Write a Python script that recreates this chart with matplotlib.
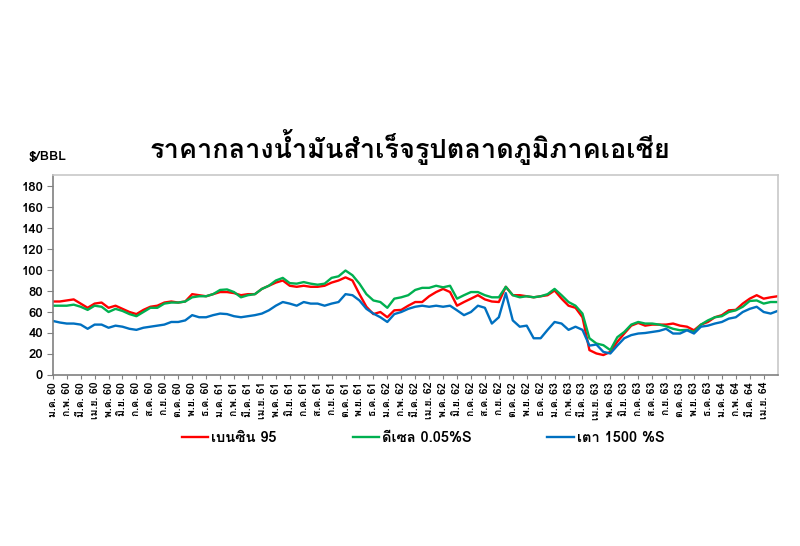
import matplotlib
matplotlib.use('Agg')
import matplotlib.pyplot as plt
from matplotlib import font_manager
from fontTools.ttLib import TTFont


def thai_font():
    # first installed family that has Thai glyphs
    for f in font_manager.fontManager.ttflist:
        try:
            font = TTFont(f.fname, fontNumber=0, lazy=True)
            if 0x0E01 in font.getBestCmap():
                return f.name
        except Exception:
            pass
    return 'DejaVu Sans'


plt.rcParams['font.family'] = [thai_font(), 'DejaVu Sans']

# x = months since ม.ค. 60 (Jan 2017), read every half month
months = [i / 2 for i in range(105)]

benzin95 = [70, 70, 71, 72, 68, 64, 68, 69, 64, 66, 63, 60, 58, 62, 65, 66, 69, 70, 69, 70,
            77, 76, 75, 77, 79, 79, 78, 76, 77, 77, 82, 85, 88, 90, 85, 84, 85, 84, 84, 85,
            88, 90, 93, 90, 77, 65, 58, 60, 55, 61.6, 62, 66, 69.5, 69.5, 75, 79, 82, 79, 66, 69.5,
            72.7, 76, 72, 70, 69.5, 84, 76, 76, 75, 74, 75, 76, 80.5, 72.7, 66, 64, 55, 23.7, 20.5, 19,
            22, 31.6, 39.5, 47, 49.6, 47, 48, 48, 48, 49, 47, 46, 42.6, 48, 50.5, 55, 57, 61.6, 62, 68,
            72.7, 76, 72.7, 74, 75]

diesel = [66, 66, 66, 67, 65, 62, 66, 65, 60, 63, 61, 58, 56, 60, 64, 64, 68, 69, 69, 70,
          74, 75, 75, 77, 81, 81.5, 79, 74, 76, 77, 82, 85, 90, 92.5, 87.5, 87, 88.5, 87, 86, 87,
          92.5, 94, 99.5, 95, 87, 77, 71, 69.5, 64, 72.7, 74, 76, 81, 83, 83, 85, 83.5, 85, 72.7, 76,
          79, 79, 76, 74, 74, 84, 76, 74, 75, 74, 75, 77, 82, 76, 69.5, 66, 58.5, 35, 30, 28.4,
          23.7, 36, 41, 48, 50.5, 49, 49, 48, 46.4, 44, 42.6, 43, 41, 48, 52, 55, 56, 60, 61.6, 65,
          70.5, 71, 68, 69.5, 69.5]

fuel_oil = [51.5, 50, 49, 49, 48, 44, 48, 48, 45, 47, 46, 44, 43, 45, 46, 47, 48, 50.5, 50.5, 52,
            57, 55, 55, 57, 58.5, 58, 56, 55, 56, 57, 58.5, 61.6, 66, 69.5, 68, 66, 69.5, 68, 68, 66,
            68, 69.5, 77, 76, 71, 63, 58.5, 55, 50.5, 58, 60, 63, 65, 66, 65, 66, 65, 66, 61.6, 57,
            60, 66, 64, 49, 55, 78, 52, 46, 47, 35, 35, 43, 50.5, 49, 43, 46, 43, 28, 29, 22,
            20.5, 28, 35, 38, 39.5, 40, 41, 42, 44, 39.5, 39.5, 42.6, 39.5, 46, 47, 49, 50.5, 53.7, 55, 60,
            63, 65, 60, 58.5, 61]

tick_labels = []
for year in [60, 61, 62, 63, 64]:
    for m in ['ม.ค.', 'ก.พ.', 'มี.ค.', 'เม.ย.', 'พ.ค.', 'มิ.ย.',
              'ก.ค.', 'ส.ค.', 'ก.ย.', 'ต.ค.', 'พ.ย.', 'ธ.ค.']:
        tick_labels.append('{} {}'.format(m, year))
tick_labels = tick_labels[:52]

fig = plt.figure(figsize=(8, 5.46), dpi=100)
ax = fig.add_axes([0.066, 0.3132, 0.906, 0.3663])

ax.plot(months, benzin95, color='#FF0000', lw=1.7, label='เบนซิน 95')
ax.plot(months, diesel, color='#00B050', lw=1.7, label='ดีเซล 0.05%S')
ax.plot(months, fuel_oil, color='#0070C0', lw=1.7, label='เตา 1500 %S')

ax.set_xlim(0, 52)
ax.set_ylim(0, 190.5)
ax.set_yticks(range(0, 181, 20))
ax.set_xticks(range(52))
ax.set_xticklabels(tick_labels, rotation=90, fontsize=7.5, fontweight='bold')
for lab in ax.get_yticklabels():
    lab.set_fontweight('bold')
    lab.set_fontsize(9.5)
ax.tick_params(axis='y', length=4, width=0.8, color='#808080', pad=3)
ax.tick_params(axis='x', length=3, width=0.8, color='#808080', pad=2)

ax.spines['left'].set_color('#808080')
ax.spines['bottom'].set_color('#808080')
ax.spines['top'].set_color('#C8C8C8')
ax.spines['right'].set_color('#C8C8C8')
for s in ax.spines.values():
    s.set_linewidth(1.2)

fig.text(0.513, 0.731, 'ราคากลางน้ำมันสำเร็จรูปตลาดภูมิภาคเอเชีย', ha='center', va='center',
         fontsize=19.5, fontweight='bold')
fig.text(0.035, 0.712, '$/BBL', ha='left', va='center', fontsize=10, fontweight='bold')

fig.legend(loc='center', bbox_to_anchor=(0.529, 0.197), ncol=3, frameon=False,
           prop={'weight': 'bold', 'size': 10.5}, handlelength=1.8, handletextpad=0.2,
           columnspacing=5.2)

fig.savefig('out.png', dpi=100)
